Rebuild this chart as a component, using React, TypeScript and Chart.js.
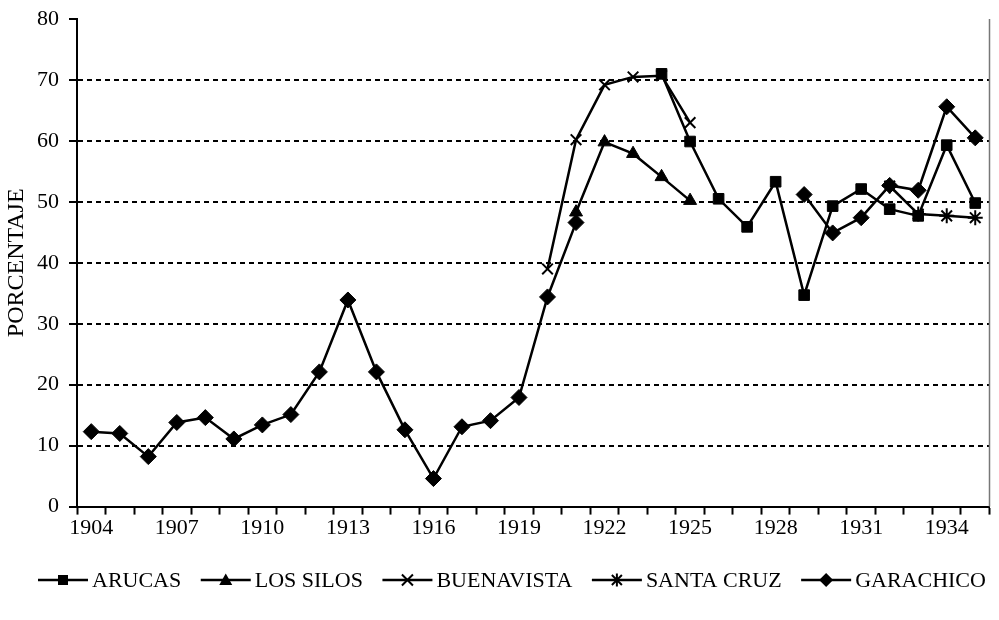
import React, { useEffect, useRef } from 'react';
import { Chart, registerables } from 'chart.js';

Chart.register(...registerables);

const years = ['1904', '1905', '1906', '1907', '1908', '1909', '1910', '1911', '1912', '1913', '1914', '1915', '1916', '1917', '1918', '1919', '1920', '1921', '1922', '1923', '1924', '1925', '1926', '1927', '1928', '1929', '1930', '1931', '1932', '1933', '1934', '1935'];
const xTickLabels = ['1904', '1907', '1910', '1913', '1916', '1919', '1922', '1925', '1928', '1931', '1934'];
const yTicks = [0, 10, 20, 30, 40, 50, 60, 70, 80];

const arucas = [null, null, null, null, null, null, null, null, null, null, null, null, null, null, null, null, null, null, null, null, 71.0, 59.9, 50.5, 45.9, 53.3, 34.7, 49.3, 52.1, 48.8, 47.7, 59.3, 49.8];
const losSilos = [null, null, null, null, null, null, null, null, null, null, null, null, null, null, null, null, null, 48.3, 59.8, 57.9, 54.1, 50.2, null, null, null, null, null, null, null, null, null, null];
const buenavista = [null, null, null, null, null, null, null, null, null, null, null, null, null, null, null, null, 39.0, 60.2, 69.2, 70.5, 70.7, 63.0, null, null, null, null, null, null, null, null, null, null];
const santaCruz = [null, null, null, null, null, null, null, null, null, null, null, null, null, null, null, null, null, null, null, null, null, null, null, null, null, null, null, null, 52.6, 48.0, 47.7, 47.4];
const garachico = [12.3, 12.0, 8.2, 13.8, 14.6, 11.1, 13.4, 15.1, 22.1, 33.9, 22.1, 12.6, 4.6, 13.1, 14.1, 17.9, 34.4, 46.6, null, null, null, null, null, null, null, 51.2, 44.9, 47.4, 52.7, 51.9, 65.6, 60.5];

const seriesNames = ['ARUCAS', 'LOS SILOS', 'BUENAVISTA', 'SANTA CRUZ', 'GARACHICO'];
const seriesData = [arucas, losSilos, buenavista, santaCruz, garachico];
const seriesStyles = ['rect', 'triangle', 'crossRot', 'star', 'rectRot'];
const seriesRadius = [7.5, 7.5, 7.5, 7.5, 8];

const FONT = "'Liberation Serif', 'Times New Roman', serif";

function drawLegendMarker(ctx: CanvasRenderingContext2D, style: string, x: number, y: number) {
  ctx.fillStyle = '#000';
  ctx.strokeStyle = '#000';
  ctx.lineWidth = 2;
  ctx.beginPath();
  if (style === 'rect') {
    ctx.fillRect(x - 5, y - 5, 10, 10);
  } else if (style === 'triangle') {
    ctx.moveTo(x, y - 6.5);
    ctx.lineTo(x + 6.5, y + 5);
    ctx.lineTo(x - 6.5, y + 5);
    ctx.closePath();
    ctx.fill();
  } else if (style === 'crossRot') {
    ctx.moveTo(x - 5.5, y - 5.5);
    ctx.lineTo(x + 5.5, y + 5.5);
    ctx.moveTo(x + 5.5, y - 5.5);
    ctx.lineTo(x - 5.5, y + 5.5);
    ctx.stroke();
  } else if (style === 'star') {
    ctx.moveTo(x - 5, y - 5);
    ctx.lineTo(x + 5, y + 5);
    ctx.moveTo(x + 5, y - 5);
    ctx.lineTo(x - 5, y + 5);
    ctx.moveTo(x, y - 6.5);
    ctx.lineTo(x, y + 6.5);
    ctx.stroke();
  } else {
    ctx.moveTo(x, y - 7);
    ctx.lineTo(x + 7, y);
    ctx.lineTo(x, y + 7);
    ctx.lineTo(x - 7, y);
    ctx.closePath();
    ctx.fill();
  }
}

const decorPlugin = {
  id: 'decor',
  afterDraw(chart: any) {
    const { ctx, chartArea } = chart;
    ctx.save();
    // right border of plot area
    ctx.strokeStyle = '#777';
    ctx.lineWidth = 1.5;
    ctx.beginPath();
    ctx.moveTo(chartArea.right, chartArea.top);
    ctx.lineTo(chartArea.right, chartArea.bottom);
    ctx.stroke();

    // legend
    const lineLen = 50;
    const textGap = 4;
    const itemGap = 19.5;
    const y = 580;
    let x = 38;
    ctx.font = `22px ${FONT}`;
    ctx.textBaseline = 'middle';
    ctx.textAlign = 'left';
    seriesNames.forEach((name, i) => {
      ctx.strokeStyle = '#000';
      ctx.lineWidth = 2.5;
      ctx.beginPath();
      ctx.moveTo(x, y);
      ctx.lineTo(x + lineLen, y);
      ctx.stroke();
      drawLegendMarker(ctx, seriesStyles[i], x + lineLen / 2, y);
      ctx.fillStyle = '#000';
      ctx.fillText(name, x + lineLen + textGap, y + 1);
      x += lineLen + textGap + ctx.measureText(name).width + itemGap;
    });
    ctx.restore();
  },
};

export default function App() {
  const canvasRef = useRef<HTMLCanvasElement | null>(null);

  useEffect(() => {
    if (!canvasRef.current) return;
    const chart = new Chart(canvasRef.current, {
      type: 'line',
      data: {
        labels: years,
        datasets: seriesNames.map((name, i) => ({
          label: name,
          data: seriesData[i],
          borderColor: '#000',
          backgroundColor: '#000',
          borderWidth: 2.5,
          pointStyle: seriesStyles[i] as any,
          pointRadius: seriesRadius[i],
          pointBackgroundColor: '#000',
          pointBorderColor: '#000',
          pointBorderWidth: i === 2 || i === 3 ? 2 : 1,
          spanGaps: false,
          tension: 0,
          fill: false,
        })),
      },
      options: {
        responsive: false,
        animation: false,
        layout: { padding: { top: 19, right: 7, left: 0, bottom: 79 } },
        plugins: {
          tooltip: { enabled: false },
          legend: { display: false },
        },
        scales: {
          x: {
            type: 'category',
            offset: true,
            grid: {
              offset: true,
              drawOnChartArea: false,
              drawTicks: true,
              tickLength: 8,
              tickColor: '#000',
              tickWidth: 2,
            },
            border: { display: true, color: '#000', width: 2 },
            ticks: {
              autoSkip: false,
              maxRotation: 0,
              minRotation: 0,
              padding: 0,
              color: '#000',
              font: { family: FONT, size: 22 },
              callback: (_v: any, i: number) => (xTickLabels.includes(years[i]) ? years[i] : ''),
            },
          },
          y: {
            min: 0,
            max: 80,
            afterFit: (s: any) => {
              s.width = 77;
              s.paddingTop = 0;
              s.paddingBottom = 0;
            },
            afterBuildTicks: (s: any) => {
              s.ticks = yTicks.map((v) => ({ value: v }));
            },
            title: {
              display: true,
              text: 'PORCENTAJE',
              color: '#000',
              font: { family: FONT, size: 24 },
              padding: { top: 2, bottom: 0 },
            },
            grid: {
              color: (ctx: any) => (ctx.tick && (ctx.tick.value === 0 || ctx.tick.value === 80) ? 'rgba(0,0,0,0)' : '#000'),
              lineWidth: 2,
              drawTicks: true,
              tickLength: 8,
              tickColor: '#000',
              tickWidth: 2,
            },
            border: { display: true, color: '#000', width: 2, dash: [5, 4] },
            ticks: {
              padding: 10,
              color: '#000',
              font: { family: FONT, size: 22 },
            },
          },
        },
      },
      plugins: [decorPlugin],
    });
    return () => chart.destroy();
  }, []);

  return (
    <div style={{ position: 'fixed', left: 0, top: 0, width: 999, height: 620, background: '#fff' }}>
      <canvas ref={canvasRef} width={999} height={620} style={{ display: 'block', width: 999, height: 620 }} />
    </div>
  );
}
